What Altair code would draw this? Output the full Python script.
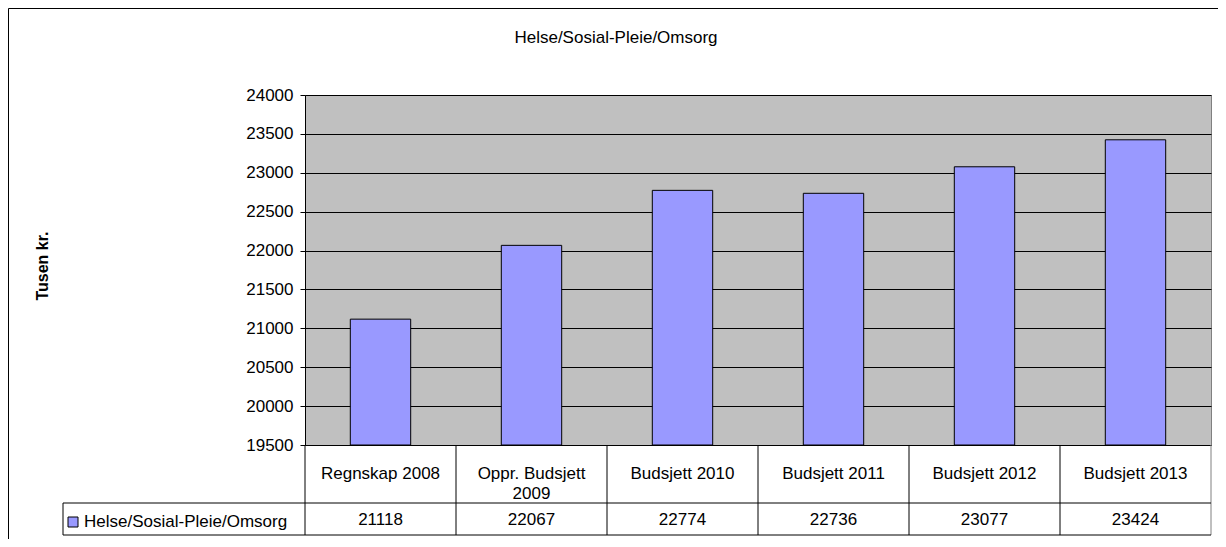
import altair as alt
import pandas as pd

categories = ["Regnskap 2008", "Oppr. Budsjett\n2009", "Budsjett 2010",
              "Budsjett 2011", "Budsjett 2012", "Budsjett 2013"]
values = [21118, 22067, 22774, 22736, 23077, 23424]
series_name = "Helse/Sosial-Pleie/Omsorg"
chart_title = "Helse/Sosial-Pleie/Omsorg"
y_title = "Tusen kr."
y_ticks = [19500, 20000, 20500, 21000, 21500, 22000, 22500, 23000, 23500, 24000]
y_domain = [19500, 24000]

df = pd.DataFrame({"cat": categories, "val": values})
one = pd.DataFrame({"k": [0]})

W, H = 906, 350
FONT = "Liberation Sans"
FS = 17
BAR = "#9999FF"

x_enc = alt.X("cat:N", sort=categories,
              scale=alt.Scale(paddingInner=0, paddingOuter=0),
              axis=alt.Axis(labels=False, ticks=False, title=None, grid=False,
                            domainColor="black"))
y_enc = alt.Y("val:Q", scale=alt.Scale(domain=y_domain, zero=False, nice=False),
              axis=alt.Axis(values=y_ticks, title=None, grid=True, gridColor="black",
                            gridWidth=1, domainColor="black", tickColor="black",
                            tickSize=5, labelFont=FONT, labelFontSize=FS,
                            labelColor="black", labelPadding=7, format="d"))

frame_top = alt.Chart(one).mark_rule(color="black", strokeWidth=1).encode(
    x=alt.value(-296.5), x2=alt.value(W + 20), y=alt.value(-86.5))
frame_left = alt.Chart(one).mark_rule(color="black", strokeWidth=1).encode(
    x=alt.value(-296.5), y=alt.value(-86.5), y2=alt.value(H + 120))

bars = alt.Chart(df).mark_bar(color=BAR, stroke="black", strokeWidth=1,
                              width=alt.RelativeBandSize(0.4)).encode(
    x=x_enc, y=y_enc, y2=alt.datum(19500))

cat_text = alt.Chart(df).mark_text(font=FONT, fontSize=FS, lineBreak="\n",
                                   baseline="middle", lineHeight=20, color="black").encode(
    x=alt.X("cat:N", sort=categories), y=alt.value(379), text="cat:N")

val_text = alt.Chart(df).mark_text(font=FONT, fontSize=FS, baseline="middle",
                                   color="black").encode(
    x=alt.X("cat:N", sort=categories), y=alt.value(424.5),
    text=alt.Text("val:Q", format="d"))

vlines = alt.Chart(df).mark_rule(color="black", strokeWidth=1).encode(
    x=alt.X("cat:N", sort=categories, bandPosition=0),
    y=alt.value(H), y2=alt.value(440))

right_edge = alt.Chart(one).mark_rule(color="#808080", strokeWidth=1).encode(
    x=alt.value(W), y=alt.value(H), y2=alt.value(440))

h1 = alt.Chart(one).mark_rule(color="black", strokeWidth=1).encode(
    x=alt.value(-242), x2=alt.value(W), y=alt.value(408))
h2 = alt.Chart(one).mark_rule(color="black", strokeWidth=1).encode(
    x=alt.value(-242), x2=alt.value(W), y=alt.value(440))
lleft = alt.Chart(one).mark_rule(color="black", strokeWidth=1).encode(
    x=alt.value(-242), y=alt.value(408), y2=alt.value(440))

leg_sym = alt.Chart(one).mark_rect(fill=BAR, stroke="black", strokeWidth=1).encode(
    x=alt.value(-237), x2=alt.value(-227), y=alt.value(422), y2=alt.value(432))
leg_txt = alt.Chart(one).mark_text(font=FONT, fontSize=FS, align="left",
                                   baseline="middle", color="black",
                                   text=series_name).encode(
    x=alt.value(-221), y=alt.value(427))

title = alt.Chart(one).mark_text(font=FONT, fontSize=FS, align="center",
                                 baseline="alphabetic", color="black",
                                 text=chart_title).encode(
    x=alt.value(311), y=alt.value(-52.5))

ytitle = alt.Chart(one).mark_text(font=FONT, fontSize=16, fontWeight="bold",
                                  align="center", baseline="middle", angle=270,
                                  color="black", text=y_title).encode(
    x=alt.value(-262), y=alt.value(171))

chart = alt.layer(frame_top, frame_left, bars, vlines, right_edge, h1, h2, lleft,
                  cat_text, val_text, leg_sym, leg_txt, title, ytitle).properties(
    width=W, height=H,
    autosize=alt.AutoSizeParams(type="none"),
    padding={"left": 297, "top": 87, "right": 7, "bottom": 94},
).configure_view(fill="#C0C0C0", stroke="#808080", strokeWidth=1)

chart.save("out.html", embed_options={"renderer": "svg", "actions": False})
